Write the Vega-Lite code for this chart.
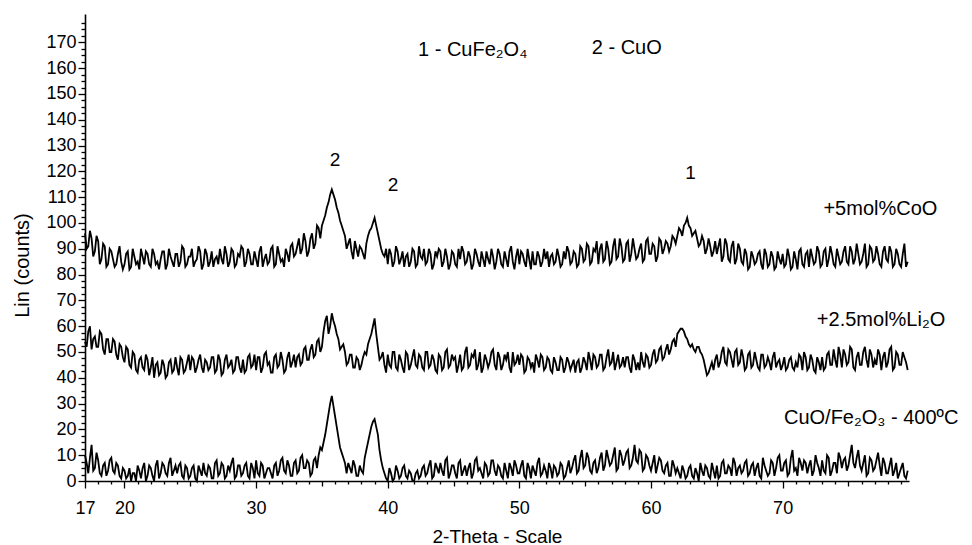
{
  "$schema": "https://vega.github.io/schema/vega-lite/v6.json",
  "width": 824,
  "height": 467,
  "autosize": {"type": "none"},
  "padding": {"left": 85, "top": 14, "right": 63, "bottom": 64},
  "background": "white",
  "config": {
    "view": {"stroke": null},
    "font": "Liberation Sans",
    "axis": {
      "domainColor": "black",
      "domainWidth": 1.6,
      "tickColor": "black",
      "tickWidth": 1.3,
      "labelColor": "black",
      "labelFont": "Liberation Sans",
      "labelFontSize": 18,
      "titleFont": "Liberation Sans",
      "titleFontSize": 20,
      "titleFontWeight": "normal",
      "titleColor": "black",
      "grid": false
    }
  },
  "layer": [
    {
      "data": {
        "values": [
          {"t":17,"a":96,"b":54,"c":10},{"t":17.25,"a":91,"b":58,"c":3},{"t":17.5,"a":94,"b":51,"c":14},{"t":17.75,"a":89,"b":56,"c":5},
          {"t":18,"a":93,"b":52,"c":8},{"t":18.25,"a":86,"b":57,"c":2},{"t":18.5,"a":91,"b":49,"c":7},{"t":18.75,"a":84,"b":55,"c":4},
          {"t":19,"a":89,"b":50,"c":9},{"t":19.25,"a":83,"b":54,"c":3},{"t":19.5,"a":88,"b":47,"c":6},{"t":19.75,"a":85,"b":52,"c":1},
          {"t":20,"a":84,"b":46,"c":4},{"t":20.25,"a":89,"b":51,"c":2},{"t":20.5,"a":83,"b":44,"c":0},{"t":20.75,"a":87,"b":49,"c":3},
          {"t":21,"a":85,"b":42,"c":6},{"t":21.25,"a":90,"b":48,"c":1},{"t":21.5,"a":84,"b":43,"c":7},{"t":21.75,"a":88,"b":47,"c":2},
          {"t":22,"a":83,"b":44,"c":5},{"t":22.25,"a":88,"b":40,"c":0},{"t":22.5,"a":85,"b":46,"c":8},{"t":22.75,"a":86,"b":42,"c":3},
          {"t":23,"a":89,"b":45,"c":6},{"t":23.25,"a":84,"b":41,"c":2},{"t":23.5,"a":87,"b":47,"c":9},{"t":23.75,"a":83,"b":43,"c":4},
          {"t":24,"a":88,"b":44,"c":3},{"t":24.25,"a":85,"b":48,"c":7},{"t":24.5,"a":90,"b":42,"c":1},{"t":24.75,"a":84,"b":46,"c":5},
          {"t":25,"a":87,"b":43,"c":2},{"t":25.25,"a":83,"b":47,"c":6},{"t":25.5,"a":86,"b":44,"c":0},{"t":25.75,"a":89,"b":49,"c":4},
          {"t":26,"a":84,"b":42,"c":7},{"t":26.25,"a":88,"b":46,"c":2},{"t":26.5,"a":85,"b":44,"c":5},{"t":26.75,"a":83,"b":48,"c":1},
          {"t":27,"a":87,"b":43,"c":8},{"t":27.25,"a":90,"b":47,"c":3},{"t":27.5,"a":84,"b":42,"c":6},{"t":27.75,"a":88,"b":49,"c":2},
          {"t":28,"a":85,"b":45,"c":4},{"t":28.25,"a":89,"b":42,"c":9},{"t":28.5,"a":84,"b":48,"c":2},{"t":28.75,"a":87,"b":44,"c":6},
          {"t":29,"a":90,"b":47,"c":3},{"t":29.25,"a":85,"b":43,"c":7},{"t":29.5,"a":88,"b":49,"c":1},{"t":29.75,"a":84,"b":45,"c":5},
          {"t":30,"a":86,"b":43,"c":8},{"t":30.25,"a":89,"b":48,"c":2},{"t":30.5,"a":83,"b":44,"c":6},{"t":30.75,"a":88,"b":50,"c":3},
          {"t":31,"a":85,"b":46,"c":5},{"t":31.25,"a":91,"b":42,"c":1},{"t":31.5,"a":84,"b":49,"c":7},{"t":31.75,"a":88,"b":45,"c":4},
          {"t":32,"a":86,"b":47,"c":9},{"t":32.25,"a":90,"b":43,"c":3},{"t":32.5,"a":85,"b":50,"c":6},{"t":32.75,"a":92,"b":46,"c":2},
          {"t":33,"a":88,"b":44,"c":8},{"t":33.25,"a":94,"b":49,"c":4},{"t":33.5,"a":90,"b":46,"c":10},{"t":33.75,"a":93,"b":52,"c":5},
          {"t":34,"a":89,"b":47,"c":7},{"t":34.25,"a":96,"b":53,"c":3},{"t":34.5,"a":92,"b":49,"c":9},{"t":34.75,"a":98,"b":55,"c":10},
          {"t":35,"a":99,"b":52,"c":12},{"t":35.25,"a":103,"b":62,"c":18},{"t":35.5,"a":108,"b":57,"c":26},{"t":35.75,"a":113,"b":65,"c":33},
          {"t":36,"a":109,"b":60,"c":25},{"t":36.25,"a":104,"b":55,"c":17},{"t":36.5,"a":99,"b":52,"c":11},{"t":36.75,"a":95,"b":50,"c":7},
          {"t":37,"a":92,"b":46,"c":7},{"t":37.25,"a":89,"b":49,"c":3},{"t":37.5,"a":93,"b":44,"c":6},{"t":37.75,"a":87,"b":47,"c":2},
          {"t":38,"a":90,"b":45,"c":4},{"t":38.25,"a":86,"b":50,"c":9},{"t":38.5,"a":95,"b":53,"c":15},{"t":38.75,"a":98,"b":57,"c":21},
          {"t":39,"a":102,"b":63,"c":24},{"t":39.25,"a":96,"b":52,"c":18},{"t":39.5,"a":90,"b":48,"c":8},{"t":39.75,"a":87,"b":45,"c":3},
          {"t":40,"a":84,"b":49,"c":0},{"t":40.25,"a":88,"b":44,"c":3},{"t":40.5,"a":85,"b":50,"c":1},{"t":40.75,"a":89,"b":43,"c":4},
          {"t":41,"a":86,"b":47,"c":2},{"t":41.25,"a":83,"b":42,"c":6},{"t":41.5,"a":88,"b":49,"c":1},{"t":41.75,"a":85,"b":45,"c":3},
          {"t":42,"a":89,"b":51,"c":0},{"t":42.25,"a":84,"b":44,"c":4},{"t":42.5,"a":87,"b":48,"c":2},{"t":42.75,"a":90,"b":43,"c":6},
          {"t":43,"a":85,"b":50,"c":3},{"t":43.25,"a":88,"b":45,"c":8},{"t":43.5,"a":84,"b":47,"c":2},{"t":43.75,"a":87,"b":42,"c":5},
          {"t":44,"a":89,"b":48,"c":7},{"t":44.25,"a":85,"b":44,"c":2},{"t":44.5,"a":87,"b":51,"c":9},{"t":44.75,"a":84,"b":45,"c":3},
          {"t":45,"a":88,"b":47,"c":6},{"t":45.25,"a":83,"b":42,"c":1},{"t":45.5,"a":86,"b":49,"c":8},{"t":45.75,"a":89,"b":44,"c":4},
          {"t":46,"a":85,"b":52,"c":2},{"t":46.25,"a":87,"b":45,"c":7},{"t":46.5,"a":84,"b":48,"c":3},{"t":46.75,"a":88,"b":43,"c":9},
          {"t":47,"a":83,"b":50,"c":5},{"t":47.25,"a":86,"b":44,"c":1},{"t":47.5,"a":89,"b":47,"c":6},{"t":47.75,"a":84,"b":46,"c":3},
          {"t":48,"a":87,"b":51,"c":8},{"t":48.25,"a":85,"b":43,"c":2},{"t":48.5,"a":88,"b":48,"c":5},{"t":48.75,"a":83,"b":45,"c":1},
          {"t":49,"a":86,"b":47,"c":4},{"t":49.25,"a":89,"b":44,"c":7},{"t":49.5,"a":85,"b":50,"c":2},{"t":49.75,"a":87,"b":46,"c":6},
          {"t":50,"a":84,"b":45,"c":3},{"t":50.25,"a":88,"b":48,"c":8},{"t":50.5,"a":83,"b":43,"c":1},{"t":50.75,"a":86,"b":47,"c":5},
          {"t":51,"a":89,"b":46,"c":6},{"t":51.25,"a":84,"b":49,"c":2},{"t":51.5,"a":87,"b":44,"c":9},{"t":51.75,"a":85,"b":48,"c":3},
          {"t":52,"a":86,"b":44,"c":4},{"t":52.25,"a":83,"b":47,"c":7},{"t":52.5,"a":88,"b":42,"c":1},{"t":52.75,"a":85,"b":46,"c":5},
          {"t":53,"a":87,"b":43,"c":3},{"t":53.25,"a":84,"b":47,"c":6},{"t":53.5,"a":86,"b":44,"c":2},{"t":53.75,"a":89,"b":46,"c":8},
          {"t":54,"a":85,"b":45,"c":5},{"t":54.25,"a":88,"b":42,"c":10},{"t":54.5,"a":84,"b":47,"c":4},{"t":54.75,"a":90,"b":44,"c":12},
          {"t":55,"a":86,"b":46,"c":6},{"t":55.25,"a":91,"b":50,"c":9},{"t":55.5,"a":85,"b":43,"c":3},{"t":55.75,"a":89,"b":48,"c":8},
          {"t":56,"a":84,"b":45,"c":5},{"t":56.25,"a":92,"b":49,"c":11},{"t":56.5,"a":86,"b":44,"c":6},{"t":56.75,"a":90,"b":51,"c":9},
          {"t":57,"a":85,"b":46,"c":7},{"t":57.25,"a":94,"b":43,"c":13},{"t":57.5,"a":87,"b":49,"c":5},{"t":57.75,"a":91,"b":45,"c":10},
          {"t":58,"a":86,"b":44,"c":8},{"t":58.25,"a":93,"b":48,"c":12},{"t":58.5,"a":88,"b":42,"c":6},{"t":58.75,"a":90,"b":47,"c":14},
          {"t":59,"a":87,"b":46,"c":7},{"t":59.25,"a":92,"b":50,"c":11},{"t":59.5,"a":86,"b":44,"c":5},{"t":59.75,"a":94,"b":48,"c":9},
          {"t":60,"a":88,"b":45,"c":4},{"t":60.25,"a":91,"b":51,"c":10},{"t":60.5,"a":87,"b":47,"c":6},{"t":60.75,"a":93,"b":52,"c":8},
          {"t":61,"a":90,"b":48,"c":3},{"t":61.25,"a":92,"b":53,"c":7},{"t":61.5,"a":91,"b":51,"c":2},{"t":61.75,"a":94,"b":55,"c":6},
          {"t":62,"a":95,"b":57,"c":5},{"t":62.25,"a":97,"b":59,"c":1},{"t":62.5,"a":99,"b":58,"c":4},{"t":62.75,"a":102,"b":55,"c":2},
          {"t":63,"a":98,"b":52,"c":6},{"t":63.25,"a":96,"b":51,"c":1},{"t":63.5,"a":94,"b":52,"c":3},{"t":63.75,"a":92,"b":50,"c":7},
          {"t":64,"a":93,"b":47,"c":2},{"t":64.25,"a":90,"b":41,"c":5},{"t":64.5,"a":91,"b":44,"c":1},{"t":64.75,"a":89,"b":43,"c":4},
          {"t":65,"a":88,"b":49,"c":6},{"t":65.25,"a":94,"b":46,"c":2},{"t":65.5,"a":87,"b":52,"c":8},{"t":65.75,"a":92,"b":45,"c":3},
          {"t":66,"a":85,"b":50,"c":5},{"t":66.25,"a":93,"b":44,"c":9},{"t":66.5,"a":86,"b":51,"c":2},{"t":66.75,"a":90,"b":46,"c":6},
          {"t":67,"a":84,"b":48,"c":4},{"t":67.25,"a":88,"b":44,"c":8},{"t":67.5,"a":83,"b":50,"c":3},{"t":67.75,"a":87,"b":45,"c":7},
          {"t":68,"a":85,"b":47,"c":5},{"t":68.25,"a":89,"b":43,"c":2},{"t":68.5,"a":82,"b":49,"c":9},{"t":68.75,"a":88,"b":45,"c":4},
          {"t":69,"a":84,"b":46,"c":3},{"t":69.25,"a":87,"b":48,"c":7},{"t":69.5,"a":83,"b":44,"c":5},{"t":69.75,"a":86,"b":47,"c":10},
          {"t":70,"a":88,"b":45,"c":4},{"t":70.25,"a":84,"b":43,"c":8},{"t":70.5,"a":87,"b":47,"c":3},{"t":70.75,"a":83,"b":44,"c":12},
          {"t":71,"a":86,"b":46,"c":5},{"t":71.25,"a":89,"b":49,"c":9},{"t":71.5,"a":84,"b":43,"c":4},{"t":71.75,"a":88,"b":48,"c":7},
          {"t":72,"a":83,"b":44,"c":6},{"t":72.25,"a":87,"b":47,"c":2},{"t":72.5,"a":85,"b":42,"c":10},{"t":72.75,"a":89,"b":46,"c":5},
          {"t":73,"a":84,"b":48,"c":8},{"t":73.25,"a":90,"b":44,"c":3},{"t":73.5,"a":86,"b":50,"c":9},{"t":73.75,"a":88,"b":45,"c":4},
          {"t":74,"a":83,"b":47,"c":7},{"t":74.25,"a":87,"b":52,"c":11},{"t":74.5,"a":85,"b":44,"c":5},{"t":74.75,"a":91,"b":49,"c":9},
          {"t":75,"a":84,"b":46,"c":6},{"t":75.25,"a":89,"b":51,"c":14},{"t":75.5,"a":86,"b":43,"c":5},{"t":75.75,"a":88,"b":50,"c":12},
          {"t":76,"a":85,"b":45,"c":4},{"t":76.25,"a":92,"b":52,"c":10},{"t":76.5,"a":84,"b":44,"c":3},{"t":76.75,"a":90,"b":49,"c":8},
          {"t":77,"a":86,"b":47,"c":5},{"t":77.25,"a":88,"b":51,"c":11},{"t":77.5,"a":83,"b":43,"c":2},{"t":77.75,"a":91,"b":50,"c":7},
          {"t":78,"a":85,"b":46,"c":3},{"t":78.25,"a":89,"b":52,"c":9},{"t":78.5,"a":84,"b":44,"c":4},{"t":78.75,"a":88,"b":49,"c":1},
          {"t":79,"a":83,"b":45,"c":5},{"t":79.25,"a":92,"b":48,"c":2},{"t":79.5,"a":85,"b":43,"c":4},

          {"t":17.125,"a":90,"b":52,"c":7},{"t":17.375,"a":97,"b":60,"c":9},{"t":17.625,"a":87,"b":55,"c":4},{"t":17.875,"a":95,"b":52,"c":11},
          {"t":18.125,"a":84,"b":58,"c":3},{"t":18.375,"a":92,"b":51,"c":6},{"t":18.625,"a":83,"b":55,"c":2},{"t":18.875,"a":90,"b":50,"c":8},
          {"t":19.125,"a":86,"b":55,"c":4},{"t":19.375,"a":84,"b":49,"c":7},{"t":19.625,"a":91,"b":53,"c":2},{"t":19.875,"a":82,"b":48,"c":5},
          {"t":20.125,"a":88,"b":52,"c":1},{"t":20.375,"a":82,"b":45,"c":5},{"t":20.625,"a":90,"b":50,"c":3},{"t":20.875,"a":84,"b":43,"c":0},
          {"t":21.125,"a":82,"b":47,"c":4},{"t":21.375,"a":87,"b":44,"c":5},{"t":21.625,"a":89,"b":49,"c":0},{"t":21.875,"a":84,"b":41,"c":6},
          {"t":22.125,"a":90,"b":48,"c":2},{"t":22.375,"a":84,"b":45,"c":6},{"t":22.625,"a":82,"b":41,"c":1},{"t":22.875,"a":89,"b":47,"c":7},
          {"t":23.125,"a":82,"b":40,"c":3},{"t":23.375,"a":90,"b":46,"c":7},{"t":23.625,"a":85,"b":42,"c":2},{"t":23.875,"a":88,"b":48,"c":6},
          {"t":24.125,"a":83,"b":41,"c":6},{"t":24.375,"a":91,"b":47,"c":2},{"t":24.625,"a":83,"b":43,"c":6},{"t":24.875,"a":87,"b":49,"c":1},
          {"t":25.125,"a":90,"b":48,"c":5},{"t":25.375,"a":85,"b":42,"c":1},{"t":25.625,"a":91,"b":47,"c":6},{"t":25.875,"a":82,"b":44,"c":2},
          {"t":26.125,"a":90,"b":47,"c":3},{"t":26.375,"a":83,"b":43,"c":6},{"t":26.625,"a":89,"b":48,"c":1},{"t":26.875,"a":86,"b":42,"c":7},
          {"t":27.125,"a":84,"b":49,"c":2},{"t":27.375,"a":86,"b":41,"c":7},{"t":27.625,"a":91,"b":47,"c":1},{"t":27.875,"a":83,"b":44,"c":6},
          {"t":28.125,"a":90,"b":47,"c":7},{"t":28.375,"a":83,"b":43,"c":1},{"t":28.625,"a":88,"b":48,"c":6},{"t":28.875,"a":91,"b":42,"c":2},
          {"t":29.125,"a":83,"b":42,"c":6},{"t":29.375,"a":90,"b":48,"c":2},{"t":29.625,"a":84,"b":44,"c":7},{"t":29.875,"a":89,"b":49,"c":1},
          {"t":30.125,"a":83,"b":48,"c":3},{"t":30.375,"a":91,"b":42,"c":7},{"t":30.625,"a":86,"b":49,"c":1},{"t":30.875,"a":84,"b":45,"c":5},
          {"t":31.125,"a":90,"b":42,"c":3},{"t":31.375,"a":83,"b":48,"c":6},{"t":31.625,"a":91,"b":44,"c":2},{"t":31.875,"a":85,"b":50,"c":8},
          {"t":32.125,"a":83,"b":42,"c":4},{"t":32.375,"a":88,"b":48,"c":8},{"t":32.625,"a":91,"b":44,"c":2},{"t":32.875,"a":87,"b":49,"c":7},
          {"t":33.125,"a":91,"b":48,"c":3},{"t":33.375,"a":88,"b":45,"c":9},{"t":33.625,"a":96,"b":51,"c":5},{"t":33.875,"a":87,"b":47,"c":8},
          {"t":34.125,"a":94,"b":51,"c":2},{"t":34.375,"a":90,"b":48,"c":8},{"t":34.625,"a":99,"b":54,"c":5},{"t":34.875,"a":94,"b":50,"c":13},
          {"t":35.125,"a":101,"b":58,"c":15},{"t":35.375,"a":106,"b":64,"c":22},{"t":35.625,"a":111,"b":60,"c":30},{"t":35.875,"a":111,"b":62,"c":29},
          {"t":36.125,"a":106,"b":57,"c":21},{"t":36.375,"a":101,"b":51,"c":13},{"t":36.625,"a":97,"b":53,"c":9},{"t":36.875,"a":90,"b":45,"c":3},
          {"t":37.125,"a":94,"b":49,"c":5},{"t":37.375,"a":86,"b":44,"c":8},{"t":37.625,"a":90,"b":48,"c":2},{"t":37.875,"a":91,"b":43,"c":6},
          {"t":38.125,"a":88,"b":48,"c":3},{"t":38.375,"a":92,"b":49,"c":12},{"t":38.625,"a":97,"b":55,"c":18},{"t":38.875,"a":100,"b":60,"c":23},
          {"t":39.125,"a":99,"b":57,"c":21},{"t":39.375,"a":93,"b":47,"c":12},{"t":39.625,"a":88,"b":50,"c":5},{"t":39.875,"a":90,"b":42,"c":1},
          {"t":40.125,"a":90,"b":45,"c":5},{"t":40.375,"a":83,"b":50,"c":0},{"t":40.625,"a":91,"b":44,"c":6},{"t":40.875,"a":84,"b":49,"c":1},
          {"t":41.125,"a":89,"b":44,"c":5},{"t":41.375,"a":87,"b":50,"c":2},{"t":41.625,"a":83,"b":43,"c":4},{"t":41.875,"a":90,"b":48,"c":0},
          {"t":42.125,"a":83,"b":45,"c":3},{"t":42.375,"a":91,"b":49,"c":1},{"t":42.625,"a":86,"b":44,"c":5},{"t":42.875,"a":84,"b":50,"c":2},
          {"t":43.125,"a":90,"b":44,"c":6},{"t":43.375,"a":82,"b":49,"c":1},{"t":43.625,"a":89,"b":43,"c":7},{"t":43.875,"a":90,"b":49,"c":3},
          {"t":44.125,"a":83,"b":43,"c":4},{"t":44.375,"a":90,"b":50,"c":8},{"t":44.625,"a":82,"b":44,"c":1},{"t":44.875,"a":89,"b":49,"c":6},
          {"t":45.125,"a":84,"b":48,"c":3},{"t":45.375,"a":90,"b":45,"c":7},{"t":45.625,"a":91,"b":43,"c":2},{"t":45.875,"a":84,"b":50,"c":6},
          {"t":46.125,"a":89,"b":44,"c":5},{"t":46.375,"a":82,"b":49,"c":1},{"t":46.625,"a":90,"b":51,"c":8},{"t":46.875,"a":85,"b":45,"c":4},
          {"t":47.125,"a":89,"b":42,"c":3},{"t":47.375,"a":83,"b":49,"c":7},{"t":47.625,"a":86,"b":44,"c":2},{"t":47.875,"a":90,"b":50,"c":8},
          {"t":48.125,"a":82,"b":45,"c":4},{"t":48.375,"a":90,"b":50,"c":6},{"t":48.625,"a":84,"b":43,"c":2},{"t":48.875,"a":89,"b":49,"c":7},
          {"t":49.125,"a":83,"b":50,"c":1},{"t":49.375,"a":91,"b":42,"c":5},{"t":49.625,"a":82,"b":45,"c":8},{"t":49.875,"a":90,"b":49,"c":3},
          {"t":50.125,"a":89,"b":49,"c":6},{"t":50.375,"a":85,"b":42,"c":2},{"t":50.625,"a":90,"b":48,"c":7},{"t":50.875,"a":82,"b":44,"c":1},
          {"t":51.125,"a":84,"b":42,"c":4},{"t":51.375,"a":89,"b":47,"c":7},{"t":51.625,"a":83,"b":49,"c":2},{"t":51.875,"a":90,"b":43,"c":6},
          {"t":52.125,"a":89,"b":48,"c":1},{"t":52.375,"a":87,"b":43,"c":5},{"t":52.625,"a":84,"b":48,"c":6},{"t":52.875,"a":90,"b":43,"c":2},
          {"t":53.125,"a":83,"b":48,"c":7},{"t":53.375,"a":89,"b":42,"c":1},{"t":53.625,"a":91,"b":48,"c":5},{"t":53.875,"a":84,"b":43,"c":3},
          {"t":54.125,"a":89,"b":47,"c":8},{"t":54.375,"a":83,"b":46,"c":3},{"t":54.625,"a":91,"b":42,"c":9},{"t":54.875,"a":85,"b":48,"c":5},
          {"t":55.125,"a":92,"b":43,"c":11},{"t":55.375,"a":84,"b":47,"c":4},{"t":55.625,"a":90,"b":49,"c":7},{"t":55.875,"a":93,"b":44,"c":3},
          {"t":56.125,"a":90,"b":49,"c":9},{"t":56.375,"a":85,"b":43,"c":4},{"t":56.625,"a":93,"b":48,"c":12},{"t":56.875,"a":84,"b":45,"c":6},
          {"t":57.125,"a":91,"b":50,"c":10},{"t":57.375,"a":86,"b":46,"c":4},{"t":57.625,"a":94,"b":44,"c":12},{"t":57.875,"a":85,"b":48,"c":6},
          {"t":58.125,"a":92,"b":48,"c":11},{"t":58.375,"a":85,"b":44,"c":5},{"t":58.625,"a":94,"b":49,"c":9},{"t":58.875,"a":86,"b":43,"c":8},
          {"t":59.125,"a":90,"b":43,"c":12},{"t":59.375,"a":85,"b":46,"c":4},{"t":59.625,"a":93,"b":49,"c":10},{"t":59.875,"a":88,"b":44,"c":6},
          {"t":60.125,"a":92,"b":49,"c":7},{"t":60.375,"a":85,"b":46,"c":3},{"t":60.625,"a":94,"b":51,"c":9},{"t":60.875,"a":88,"b":47,"c":4},
          {"t":61.125,"a":93,"b":51,"c":6},{"t":61.375,"a":89,"b":49,"c":2},{"t":61.625,"a":95,"b":54,"c":8},{"t":61.875,"a":92,"b":52,"c":3},
          {"t":62.125,"a":98,"b":58,"c":3},{"t":62.375,"a":95,"b":59,"c":6},{"t":62.625,"a":100,"b":56,"c":1},{"t":62.875,"a":99,"b":53,"c":5},
          {"t":63.125,"a":95,"b":53,"c":2},{"t":63.375,"a":97,"b":50,"c":5},{"t":63.625,"a":91,"b":52,"c":0},{"t":63.875,"a":95,"b":49,"c":4},
          {"t":64.125,"a":88,"b":44,"c":6},{"t":64.375,"a":94,"b":42,"c":2},{"t":64.625,"a":87,"b":46,"c":7},{"t":64.875,"a":93,"b":47,"c":1},
          {"t":65.125,"a":91,"b":44,"c":1},{"t":65.375,"a":85,"b":50,"c":7},{"t":65.625,"a":94,"b":46,"c":3},{"t":65.875,"a":86,"b":51,"c":6},
          {"t":66.125,"a":91,"b":47,"c":2},{"t":66.375,"a":84,"b":50,"c":7},{"t":66.625,"a":92,"b":45,"c":5},{"t":66.875,"a":85,"b":51,"c":3},
          {"t":67.125,"a":90,"b":43,"c":7},{"t":67.375,"a":82,"b":49,"c":2},{"t":67.625,"a":89,"b":44,"c":6},{"t":67.875,"a":84,"b":50,"c":2},
          {"t":68.125,"a":88,"b":44,"c":7},{"t":68.375,"a":84,"b":49,"c":1},{"t":68.625,"a":90,"b":44,"c":6},{"t":68.875,"a":83,"b":48,"c":2},
          {"t":69.125,"a":89,"b":43,"c":8},{"t":69.375,"a":82,"b":50,"c":2},{"t":69.625,"a":89,"b":46,"c":9},{"t":69.875,"a":84,"b":43,"c":4},
          {"t":70.125,"a":83,"b":48,"c":7},{"t":70.375,"a":90,"b":44,"c":2},{"t":70.625,"a":82,"b":48,"c":9},{"t":70.875,"a":89,"b":43,"c":4},
          {"t":71.125,"a":82,"b":44,"c":2},{"t":71.375,"a":90,"b":48,"c":7},{"t":71.625,"a":83,"b":50,"c":8},{"t":71.875,"a":89,"b":43,"c":3},
          {"t":72.125,"a":90,"b":49,"c":8},{"t":72.375,"a":84,"b":43,"c":4},{"t":72.625,"a":91,"b":48,"c":7},{"t":72.875,"a":83,"b":43,"c":2},
          {"t":73.125,"a":89,"b":43,"c":4},{"t":73.375,"a":83,"b":49,"c":10},{"t":73.625,"a":91,"b":45,"c":2},{"t":73.875,"a":84,"b":51,"c":7},
          {"t":74.125,"a":90,"b":44,"c":3},{"t":74.375,"a":84,"b":49,"c":9},{"t":74.625,"a":89,"b":51,"c":8},{"t":74.875,"a":85,"b":45,"c":4},
          {"t":75.125,"a":91,"b":52,"c":10},{"t":75.375,"a":84,"b":44,"c":7},{"t":75.625,"a":92,"b":48,"c":9},{"t":75.875,"a":84,"b":45,"c":6},
          {"t":76.125,"a":88,"b":50,"c":7},{"t":76.375,"a":83,"b":47,"c":2},{"t":76.625,"a":91,"b":51,"c":9},{"t":76.875,"a":85,"b":44,"c":4},
          {"t":77.125,"a":91,"b":45,"c":8},{"t":77.375,"a":84,"b":49,"c":6},{"t":77.625,"a":89,"b":48,"c":9},{"t":77.875,"a":86,"b":44,"c":3},
          {"t":78.125,"a":91,"b":51,"c":6},{"t":78.375,"a":83,"b":43,"c":2},{"t":78.625,"a":90,"b":50,"c":7},{"t":78.875,"a":84,"b":45,"c":3},
          {"t":79.125,"a":88,"b":50,"c":7},{"t":79.375,"a":83,"b":46,"c":1}
        ]
      },
      "transform": [{"fold": ["a", "b", "c"], "as": ["s", "v"]}],
      "mark": {"type": "line", "color": "black", "strokeWidth": 1.8},
      "encoding": {
        "x": {
          "field": "t",
          "type": "quantitative",
          "scale": {"domain": [17, 79.6], "nice": false, "zero": false},
          "axis": {
            "title": "2-Theta - Scale",
            "values": [17,18,19,20,21,22,23,24,25,26,27,28,29,30,31,32,33,34,35,36,37,38,39,40,41,42,43,44,45,46,47,48,49,50,51,52,53,54,55,56,57,58,59,60,61,62,63,64,65,66,67,68,69,70,71,72,73,74,75,76,77,78,79],
            "tickCount": 500,
            "format": "d",
            "labelExpr": "datum.value === 17 || datum.value % 10 === 0 ? datum.label : ''",
            "labelOverlap": false,
            "labelFlush": false,
            "tickSize": {"condition": [{"test": "datum.value === 17 || datum.value % 10 === 0", "value": 7}, {"test": "datum.value % 5 === 0", "value": 5}], "value": 3},
            "labelPadding": 11,
            "titleFontSize": 19,
            "titleY": 55,
            "titleBaseline": "middle"
          }
        },
        "y": {
          "field": "v",
          "type": "quantitative",
          "scale": {"domain": [0, 181], "nice": false},
          "axis": {
            "title": "Lin (counts)",
            "values": [0,2.5,5,7.5,10,12.5,15,17.5,20,22.5,25,27.5,30,32.5,35,37.5,40,42.5,45,47.5,50,52.5,55,57.5,60,62.5,65,67.5,70,72.5,75,77.5,80,82.5,85,87.5,90,92.5,95,97.5,100,102.5,105,107.5,110,112.5,115,117.5,120,122.5,125,127.5,130,132.5,135,137.5,140,142.5,145,147.5,150,152.5,155,157.5,160,162.5,165,167.5,170,172.5,175,177.5],
            "tickCount": 500,
            "format": "d",
            "labelExpr": "datum.value % 10 === 0 ? datum.label : ''",
            "labelOverlap": false,
            "labelFlush": false,
            "tickSize": {"condition": {"test": "datum.value % 10 === 0", "value": 7}, "value": 4},
            "labelPadding": 2,
            "titleX": -63,
            "titleY": 251,
            "titleBaseline": "middle",
            "titleAlign": "center"
          }
        },
        "detail": {"field": "s"}
      }
    },
    {
      "data": {
        "values": [
          {"t": 42.3, "v": 167, "label": "1 - CuFe₂O₄"},
          {"t": 55.5, "v": 167.8, "label": "2 - CuO"},
          {"t": 73.1, "v": 105.4, "label": "+5mol%CoO"},
          {"t": 72.6, "v": 62.4, "label": "+2.5mol%Li₂O"},
          {"t": 70.1, "v": 24.4, "label": "CuO/Fe₂O₃ - 400ºC"}
        ]
      },
      "mark": {"type": "text", "align": "left", "baseline": "middle", "fontSize": 20, "font": "Liberation Sans", "color": "black"},
      "encoding": {
        "x": {"field": "t", "type": "quantitative"},
        "y": {"field": "v", "type": "quantitative"},
        "text": {"field": "label"}
      }
    },
    {
      "data": {
        "values": [
          {"t": 36.0, "v": 124.4, "label": "2"},
          {"t": 40.4, "v": 114.7, "label": "2"},
          {"t": 63.0, "v": 119.4, "label": "1"}
        ]
      },
      "mark": {"type": "text", "align": "center", "baseline": "middle", "fontSize": 19, "font": "Liberation Sans", "color": "black"},
      "encoding": {
        "x": {"field": "t", "type": "quantitative"},
        "y": {"field": "v", "type": "quantitative"},
        "text": {"field": "label"}
      }
    }
  ]
}
